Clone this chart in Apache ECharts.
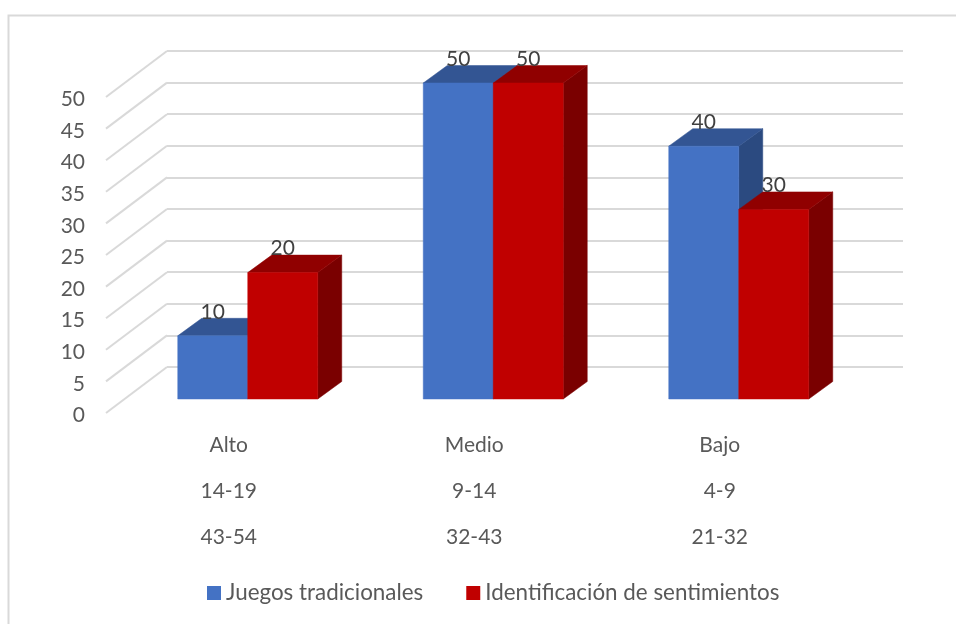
<!DOCTYPE html>
<html>
<head>
<meta charset="utf-8">
<style>html,body{margin:0;padding:0;background:#fff}#c{width:956px;height:624px}</style>
<script src="https://cdn.jsdelivr.net/npm/echarts@6/dist/echarts.min.js"></script>
</head>
<body>
<div id="c"></div>
<script>
const levels = ['Alto', 'Medio', 'Bajo'];
const rangeA = ['14-19', '9-14', '4-9'];
const rangeB = ['43-54', '32-43', '21-32'];
const juegos = [10, 50, 40];
const identificacion = [20, 50, 30];
const ticks = [0, 5, 10, 15, 20, 25, 30, 35, 40, 45, 50];
const seriesNames = ['Juegos tradicionales', 'Identificación de sentimientos'];

const FONT = 'Lato, "Open Sans", sans-serif';
const categories = levels.map((l, i) => l + '\n' + rangeA[i] + '\n' + rangeB[i]);
const BAR_W = 70, DX = 24, DY = 17.5;

function poly(points, fill) {
  return { type: 'polygon', shape: { points }, style: { fill, stroke: fill, lineWidth: 0.5 } };
}
function barRenderer(side, front, topC, sideC) {
  return function (params, api) {
    const p = api.coord([api.value(0), api.value(1)]);
    const base = api.coord([api.value(0), 0]);
    const x0 = side < 0 ? p[0] - BAR_W : p[0];
    const x1 = x0 + BAR_W, yT = p[1], yB = base[1];
    return {
      type: 'group',
      children: [
        poly([[x1, yT], [x1 + DX, yT - DY], [x1 + DX, yB - DY], [x1, yB]], sideC),
        poly([[x0, yT], [x0 + DX, yT - DY], [x1 + DX, yT - DY], [x1, yT]], topC),
        poly([[x0, yT], [x1, yT], [x1, yB], [x0, yB]], front),
        { type: 'text', z2: 10, style: { text: String(api.value(1)), x: (x0 + x1) / 2, y: yT - 24,
          align: 'center', verticalAlign: 'middle', fill: '#404040', font: '21px ' + FONT } }
      ]
    };
  };
}
const chart = echarts.init(document.getElementById('c'));
const hiddenCat = { type: 'category', data: categories, axisLine: { show: false }, axisTick: { show: false }, axisLabel: { show: false }, splitLine: { show: false } };
const valBase = { type: 'value', min: 0, max: 50, interval: 5, axisLine: { show: false }, axisTick: { show: false } };
chart.setOption({
  animation: false,
  backgroundColor: '#fff',
  graphic: [{ type: 'rect', silent: true, z: -1, shape: { x: 8.5, y: 15.5, width: 1000, height: 700 },
    style: { fill: 'none', stroke: '#d9d9d9', lineWidth: 2 } }],
  grid: [
    { left: 106, top: 97, width: 736.5, height: 316 },
    { left: 167, top: 51, width: 736, height: 316 },
    { left: 125, top: 83, width: 736.5, height: 316 },
    { left: 106, top: 99.5, width: 736.5, height: 316 }
  ],
  xAxis: [
    { type: 'category', gridIndex: 0, data: categories, axisLine: { show: false }, axisTick: { show: false },
      axisLabel: { color: '#595959', fontSize: 21, fontFamily: FONT, lineHeight: 46, margin: 9.5, interval: 0 } },
    Object.assign({ gridIndex: 1 }, hiddenCat),
    Object.assign({ gridIndex: 2 }, hiddenCat),
    Object.assign({ gridIndex: 3 }, hiddenCat)
  ],
  yAxis: [
    Object.assign({ gridIndex: 0, axisLabel: { show: false }, splitLine: { show: false } }, valBase),
    Object.assign({ gridIndex: 1, axisLabel: { show: false }, splitLine: { show: true, lineStyle: { color: '#d9d9d9', width: 2 } } }, valBase),
    Object.assign({ gridIndex: 2, axisLabel: { show: false }, splitLine: { show: false } }, valBase),
    Object.assign({ gridIndex: 3, axisLabel: { color: '#595959', fontSize: 21, fontFamily: FONT, margin: 21 }, splitLine: { show: false } }, valBase)
  ],
  legend: {
    data: seriesNames.map(name => ({ name, icon: 'rect' })),
    left: 207, top: 582, padding: 0, itemWidth: 14, itemHeight: 14, itemGap: 43, selectedMode: false,
    textStyle: { color: '#595959', fontSize: 22.4, fontFamily: FONT }
  },
  series: [
    { type: 'custom', name: 'walls', silent: true, xAxisIndex: 0, yAxisIndex: 0, z: 1,
      data: ticks.map(v => [0, v]),
      renderItem: (params, api) => {
        const y = api.coord([0, api.value(1)])[1];
        const x = params.coordSys.x;
        return { type: 'line', shape: { x1: x, y1: y, x2: x + 61, y2: y - 46 },
          style: { stroke: '#d9d9d9', lineWidth: 2 } };
      } },
    { type: 'custom', name: seriesNames[0], xAxisIndex: 2, yAxisIndex: 2, z: 3, itemStyle: { color: '#4472C4' },
      data: juegos.map((v, i) => [i, v]), renderItem: barRenderer(-1, '#4472C4', '#335593', '#2B4A80') },
    { type: 'custom', name: seriesNames[1], xAxisIndex: 2, yAxisIndex: 2, z: 4, itemStyle: { color: '#C00000' },
      data: identificacion.map((v, i) => [i, v]), renderItem: barRenderer(1, '#C00000', '#900000', '#7A0000') }
  ]
});
</script>
</body>
</html>
